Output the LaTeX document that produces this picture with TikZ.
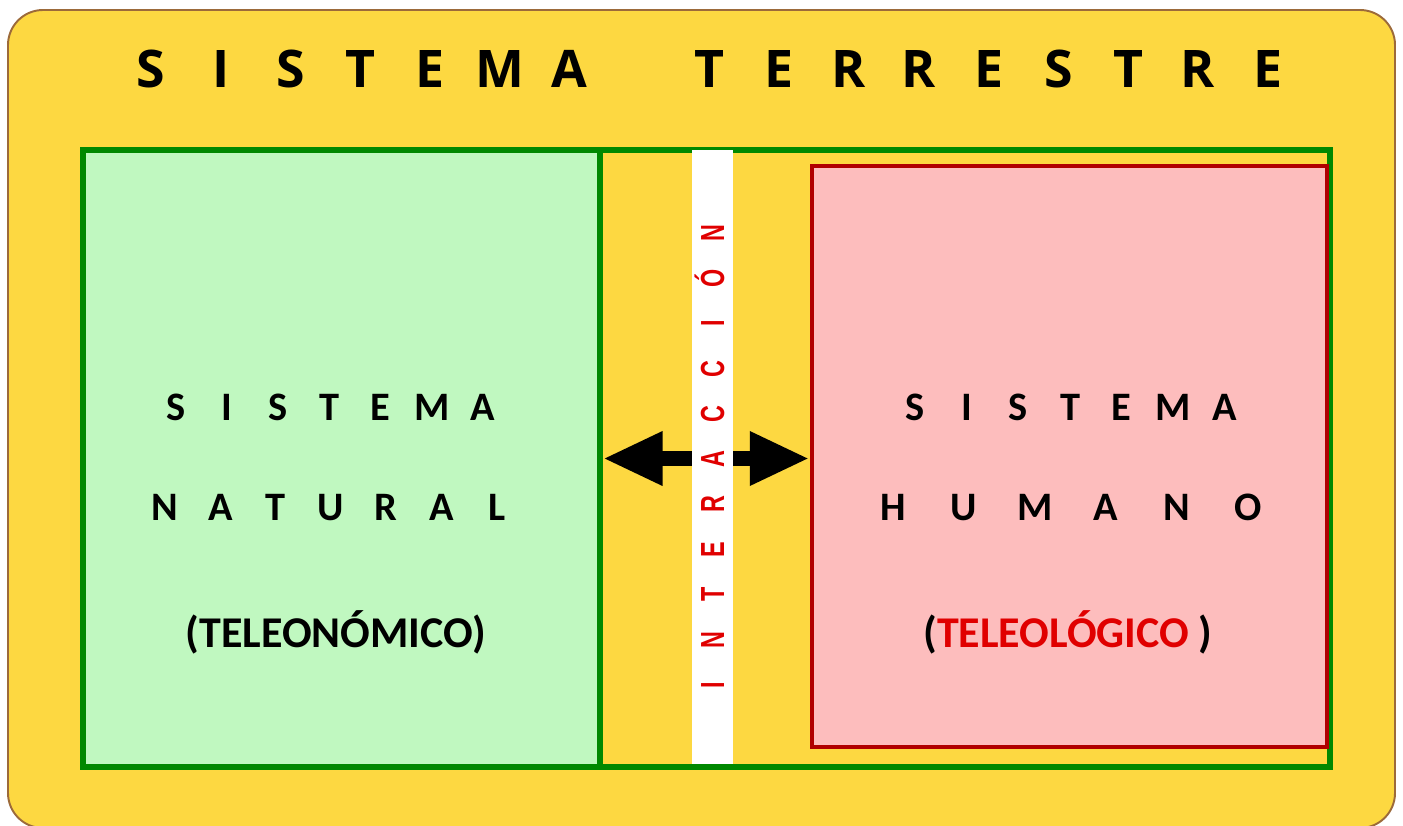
\documentclass[tikz,border=0pt]{standalone}
\usepackage{fontspec}
\setmainfont{Carlito}
\newfontfamily\arialfont{Liberation Sans}
\newfontfamily\titlefont{Open Sans}
\usetikzlibrary{arrows.meta,fit}
\definecolor{sand}{HTML}{FDD841}
\definecolor{frame}{HTML}{9C6A3A}
\definecolor{leaf}{HTML}{008800}
\definecolor{mint}{HTML}{C0F8C0}
\definecolor{blood}{HTML}{B00000}
\definecolor{rose}{HTML}{FDBDBD}
\definecolor{signal}{HTML}{E00000}

\begin{document}
\begin{tikzpicture}[x=0.02cm,y=-0.02cm]
  \tikzstyle{every node}=[inner sep=0pt]
  \tikzstyle{bigletter}=[anchor=base,font=\titlefont\bfseries\fontsize{29.5}{34}\selectfont]
  \tikzstyle{boxletter}=[anchor=base,font=\bfseries\fontsize{23}{26}\selectfont]
  \tikzstyle{notetext}=[anchor=base,font=\bfseries\fontsize{25}{28}\selectfont]
  \tikzstyle{sideletter}=[anchor=base,rotate=90,text=signal,font=\arialfont\bfseries\fontsize{19}{22}\selectfont]
  \clip (0,0) rectangle (1403,825);
  \draw [frame,line width=1.1pt,fill=sand,rounded corners=0.7cm] (8,10) rectangle (1395,828);
  % frames
  \node [fit={(83,150) (1330,767)},draw=leaf,line width=3.2pt] (world) {};
  \node [fit={(83,150) (600,767)},draw=leaf,fill=mint,line width=3.2pt] (natural) {};
  \node [fit={(812,166) (1327,747)},draw=blood,fill=rose,line width=2.8pt] (human) {};
  \draw [line width=9pt,{Triangle[length=34pt,width=28.5pt]}-{Triangle[length=34pt,width=28.5pt]}]
    (natural.east) -- (natural.east -| human.west);
  \node [fit={(692,150) (733,764)},fill=white] (strip) {};
  % title
  \foreach \c [count=\i from 0] in {S,I,S,T,E,M,A}
    \node [bigletter] (ta\i) at (151+69.8*\i,87) {\c};
  \foreach \c [count=\i from 8] in {T,E,R,R,E,S,T,R,E}
    \node [bigletter] (tb\i) at (151+69.8*\i,87) {\c};
  % natural system
  \foreach \c [count=\i from 0] in {S,I,S,T,E,M,A}
    \node [boxletter] (na\i) at (176+51.2*\i,420) {\c};
  \foreach \c [count=\i from 0] in {N,A,T,U,R,A,L}
    \node [boxletter] (nb\i) at (165+55.3*\i,520) {\c};
  \node [notetext] (natnote) at (336,647) {(TELEONÓMICO)};
  % human system
  \foreach \c [count=\i from 0] in {S,I,S,T,E,M,A}
    \node [boxletter] (ha\i) at (915+51.7*\i,420) {\c};
  \foreach \c [count=\i from 0] in {H,U,M,A,N,O}
    \node [boxletter] (hb\i) at (893+71*\i,520) {\c};
  \node [notetext] (humnote) at (1068,647) {(\textcolor{signal}{TELEOLÓGICO}\ )};
  % interaction
  \foreach \c [count=\i from 0] in {I,N,T,E,R,A,C,C,I,Ó,N}
    \node [sideletter] (v\i) at (724,685-45.2*\i) {\scalebox{0.7}[1]{\c}};
\end{tikzpicture}
\end{document}
